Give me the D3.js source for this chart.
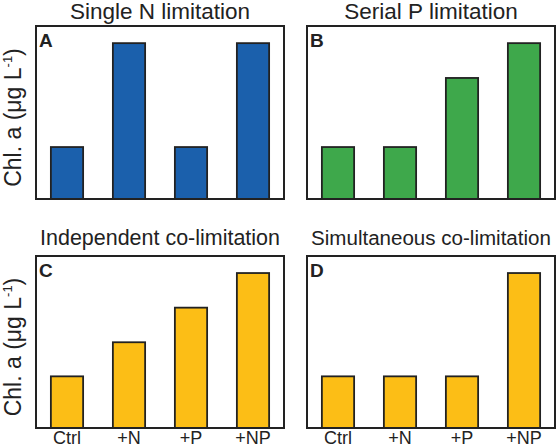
<!DOCTYPE html>
<html><head><meta charset="utf-8">
<script src="https://cdn.jsdelivr.net/npm/d3@7"></script>
<style>body{margin:0;background:#fff}svg{display:block}text{font-family:"Liberation Sans",Arial,sans-serif}</style>
</head><body><svg id="c" width="556" height="447"></svg>
<script>
const categories = ["Ctrl", "+N", "+P", "+NP"];
const panelLetters = ["A", "B", "C", "D"];
const panelTitles = ["Single N limitation", "Serial P limitation", "Independent co-limitation", "Simultaneous co-limitation"];
const valuesA = [1, 3, 1, 3];
const valuesB = [1, 1, 2.33, 3];
const valuesC = [1, 1.66, 2.33, 3];
const valuesD = [1, 1, 1, 3];
const panelColors = ["#1b60ac", "#3ea84b", "#fcbe16", "#fcbe16"];
const yLabel = "Chl. a (\u03bcg L";

const svg = d3.select("#c");
const panels = [
  {x0:36, x1:284, y0:26, y1:199, ty:19, vals:valuesA, xlab:false, ylab:true},
  {x0:307, x1:555, y0:26, y1:199, ty:19, vals:valuesB, xlab:false, ylab:false},
  {x0:36, x1:284, y0:256, y1:428, ty:245, vals:valuesC, xlab:true, ylab:true},
  {x0:307, x1:555, y0:256, y1:428, ty:245, vals:valuesD, xlab:true, ylab:false}
];
panels.forEach((p,i)=>{
  const x = d3.scaleBand().domain(categories).range([p.x0,p.x1]).paddingInner(0.48).paddingOuter(0.24);
  const y = d3.scaleLinear().domain([0,3.33]).range([p.y1,p.y0]);
  const g = svg.append("g");
  g.selectAll("rect.bar").data(p.vals).join("rect").attr("class","bar")
    .attr("x",(d,j)=>x(categories[j])).attr("width",x.bandwidth())
    .attr("y",d=>y(d)).attr("height",d=>y(0)-y(d))
    .attr("fill",panelColors[i]).attr("stroke","#222").attr("stroke-width",1.8);
  g.append("rect").attr("x",p.x0).attr("y",p.y0).attr("width",p.x1-p.x0).attr("height",p.y1-p.y0)
    .attr("fill","none").attr("stroke","#222").attr("stroke-width",2);
  g.append("text").attr("x",p.x0+3).attr("y",p.y0+21).attr("font-weight","bold").attr("font-size",19).attr("fill","#222").text(panelLetters[i]);
  const fs = 22.5;
  const tt = g.append("text").attr("x",(p.x0+p.x1)/2).attr("y",p.ty).attr("text-anchor","middle").attr("font-size",fs).attr("fill","#222").text(panelTitles[i]);
  const maxW = p.x1-p.x0-8;
  const w = tt.node().getComputedTextLength();
  if(w>maxW){ tt.attr("font-size", fs*maxW/w); }
  if(p.xlab){
    const ax = g.append("g").attr("transform",`translate(0,${p.y1})`).call(d3.axisBottom(x).tickSize(0));
    ax.select(".domain").remove();
    ax.selectAll("text").attr("y",16).attr("dy",null).attr("font-size",18).attr("fill","#222").style("font-family","'Liberation Sans',Arial,sans-serif");
  }
  if(p.ylab){
    const t = g.append("text").attr("transform",`translate(${21},${(p.y0+p.y1)/2+5}) rotate(-90)`).attr("text-anchor","middle").attr("font-size",23).attr("fill","#222");
    t.append("tspan").text(yLabel);
    t.append("tspan").attr("font-size",13).attr("dy",-9).text("-1");
    t.append("tspan").attr("dy",9).text(")");
  }
});
</script></body></html>
